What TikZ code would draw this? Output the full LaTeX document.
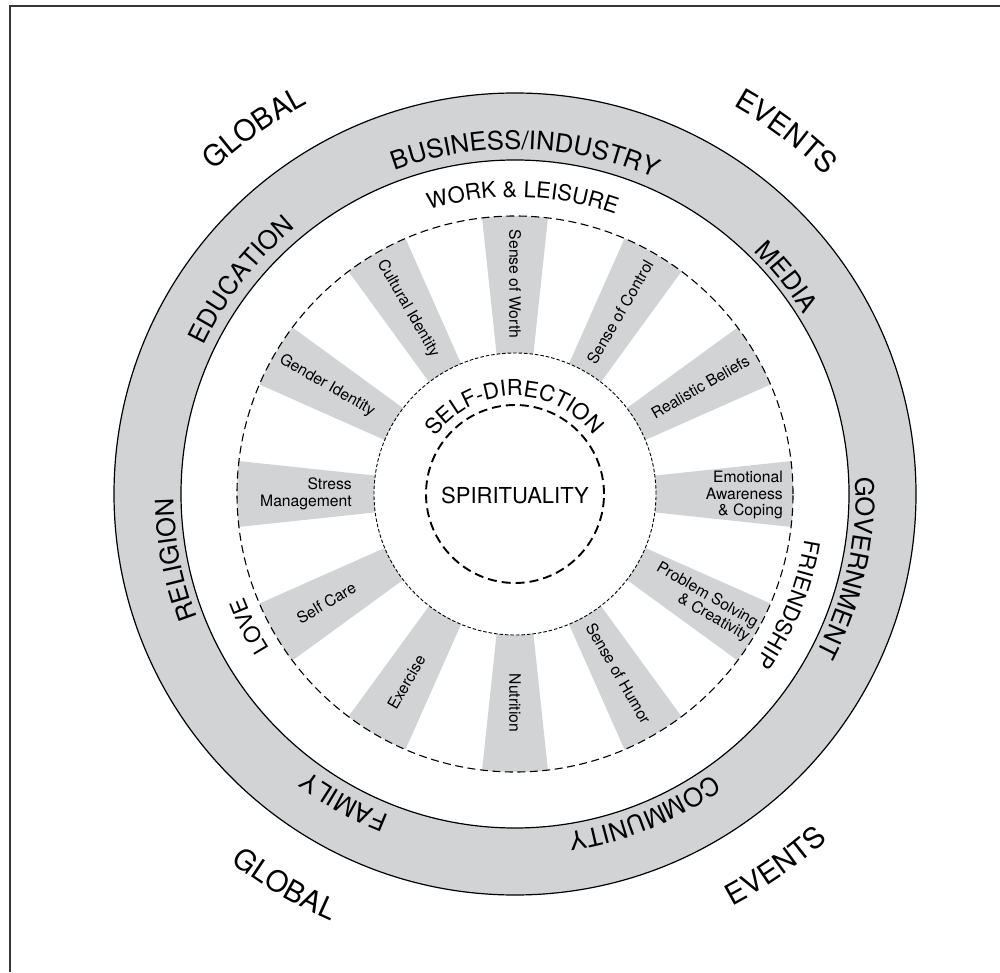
\documentclass[tikz,border=0pt]{standalone}
\usepackage{fontspec}
\setmainfont{TeX Gyre Heros}
\usetikzlibrary{decorations.text}
\definecolor{ringgray}{RGB}{209,211,212}
\definecolor{framegray}{RGB}{55,55,55}
\newcommand{\fsSpoke}{\fontsize{15.7}{16.4}\selectfont}
\newcommand{\fsInner}{\fontsize{22}{22}\selectfont}
\newcommand{\fsRing}{\fontsize{25.5}{25.5}\selectfont}
\newcommand{\fsOuter}{\fontsize{29}{29}\selectfont}
% clockwise text, tops outward: radius, centre angle, half span, font, text
\newcommand{\cwtext}[5]{%
  \path[decorate, decoration={text along path, text align=center, text={|#4|#5}}]
    (#2+#3:#1) arc[start angle=#2+#3, end angle=#2-#3, radius=#1];}
% counter-clockwise text, tops inward
\newcommand{\ccwtext}[5]{%
  \path[decorate, decoration={text along path, text align=center, text={|#4|#5}}]
    (#2-#3:#1) arc[start angle=#2-#3, end angle=#2+#3, radius=#1];}
\begin{document}
\begin{tikzpicture}[x=1pt,y=1pt,
  spokelabel/.style={font=\fsSpoke, inner sep=0pt},
  solidline/.style={draw=black, line width=1.2pt},
  bigdash/.style={draw=black, line width=1.1pt, dash pattern=on 8pt off 4.5pt},
  finedash/.style={draw=black, line width=0.9pt, dash pattern=on 3.5pt off 2pt},
  spiritdash/.style={draw=black, line width=1.9pt, dash pattern=on 9pt off 5pt}]
\useasboundingbox (0,0) rectangle (1000,972);
\fill[white] (0,0) rectangle (1000,972);
\draw[framegray, line width=1.6pt] (10,0) -- (10,966) -- (1000,966);
\begin{scope}[shift={(515,478)}]
  % gray ring
  \fill[ringgray, even odd rule] (0,0) circle[radius=401] (0,0) circle[radius=334];
  % spokes
  \foreach \a in {0,30,...,330}{
    \fill[ringgray] (\a-7.5:141) -- (\a-6.8:278)
      arc[start angle=\a-6.8, end angle=\a+6.8, radius=278]
      -- (\a+7.5:141)
      arc[start angle=\a+7.5, end angle=\a-7.5, radius=141] -- cycle;
  }
  % circles
  \path[solidline] (0,0) circle[radius=401];
  \path[solidline] (0,0) circle[radius=334];
  \path[bigdash] (0,0) circle[radius=278];
  \path[finedash] (0,0) circle[radius=141];
  \path[spiritdash] (0,0) circle[radius=89];
  % spoke labels
  \node[spokelabel, rotate=-90] (worth) at (90:210) {Sense of Worth};
  \node[spokelabel, rotate=60] (control) at (60:210) {Sense of Control};
  \node[spokelabel, rotate=30] (beliefs) at (30:214) {Realistic Beliefs};
  \node[spokelabel, align=right, anchor=east] (emotional) at (268,-1) {Emotional\\Awareness\\\& Coping};
  \node[spokelabel, rotate=-30, align=right] (problem) at (-30:217) {Problem Solving\\\& Creativity};
  \node[spokelabel, rotate=-60] (humor) at (-60:207) {Sense of Humor};
  \node[spokelabel, rotate=-90] (nutrition) at (-90:209) {Nutrition};
  \node[spokelabel, rotate=60] (exercise) at (-120:217) {Exercise};
  \node[spokelabel, rotate=30] (selfcare) at (-150:218) {Self Care};
  \node[spokelabel, align=right, anchor=east] (stress) at (-163,0) {Stress\\Management};
  \node[spokelabel, rotate=-30] (gender) at (150:217) {Gender Identity};
  \node[spokelabel, rotate=-60] (cultural) at (120:214) {Cultural Identity};
  % centre
  \node[font=\fsInner, inner sep=0pt] (spirit) at (0,-1) {SPIRITUALITY};
  \cwtext{98}{90.5}{80}{\fsInner}{SELF-DIRECTION}
  % inner band labels
  \cwtext{297}{88.5}{50}{\fsInner}{WORK {\&} LEISURE}
  \cwtext{293}{-22}{50}{\fsInner}{FRIENDSHIP}
  \cwtext{290}{-153.5}{40}{\fsInner}{LOVE}
  % ring labels
  \cwtext{345}{88.25}{40}{\fsRing}{BUSINESS/INDUSTRY}
  \cwtext{340}{38.7}{30}{\fsRing}{MEDIA}
  \cwtext{341}{-12.5}{40}{\fsRing}{GOVERNMENT}
  \cwtext{343}{-68}{40}{\fsRing}{COMMUNITY}
  \cwtext{345}{-119}{30}{\fsRing}{FAMILY}
  \cwtext{341}{-169}{40}{\fsRing}{RELIGION}
  \cwtext{345}{142}{40}{\fsRing}{EDUCATION}
  % outer labels
  \cwtext{442}{125.5}{30}{\fsOuter}{GLOBAL}
  \cwtext{445}{53.2}{30}{\fsOuter}{EVENTS}
  \ccwtext{465}{-120.5}{30}{\fsOuter}{GLOBAL}
  \ccwtext{466}{-55}{30}{\fsOuter}{EVENTS}
\end{scope}
\end{tikzpicture}
\end{document}
